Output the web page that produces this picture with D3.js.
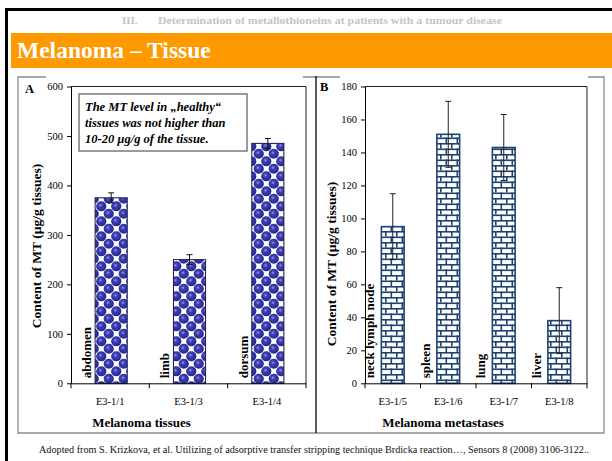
<!DOCTYPE html>
<html><head><meta charset="utf-8">
<script src="https://cdn.jsdelivr.net/npm/d3@7"></script>
<style>
html,body{margin:0;padding:0;background:#fff;}
svg{display:block;}
text{font-family:"Liberation Serif","Times New Roman",serif;}
</style></head>
<body>
<script>
// ---- data ----
const catsA = ["E3-1/1", "E3-1/3", "E3-1/4"];
const valuesA = [375, 250, 485];
const errorsA = [10, 10, 10];
const tissueLabelsA = ["abdomen", "limb", "dorsum"];
const ticksA = [0, 100, 200, 300, 400, 500, 600];

const catsB = ["E3-1/5", "E3-1/6", "E3-1/7", "E3-1/8"];
const valuesB = [95, 151, 143, 38];
const errorsB = [20, 20, 20, 20];
const tissueLabelsB = ["neck lymph node", "spleen", "lung", "liver"];
const ticksB = [0, 20, 40, 60, 80, 100, 120, 140, 160, 180];

const W = 612, H = 461;
const svg = d3.select("body").append("svg").attr("width", W).attr("height", H);
const defs = svg.append("defs");

// sphere pattern
const T = 15, R = 5.1;
const sp = defs.append("pattern").attr("id", "spheres").attr("patternUnits", "userSpaceOnUse")
  .attr("width", T).attr("height", T).attr("x", 0).attr("y", 0);
sp.append("rect").attr("width", T).attr("height", T).attr("fill", "#fff");
const rg = defs.append("radialGradient").attr("id", "sg").attr("cx", "42%").attr("cy", "40%").attr("r", "62%");
rg.append("stop").attr("offset", "0%").attr("stop-color", "#9a9ae6");
rg.append("stop").attr("offset", "30%").attr("stop-color", "#3f3fb4");
rg.append("stop").attr("offset", "100%").attr("stop-color", "#23238a");
[[3.75, 3.75], [11.25, 11.25], [11.25, -3.75], [-3.75, 11.25], [18.75, 3.75], [3.75, 18.75]].forEach(([cx, cy]) => {
  sp.append("circle").attr("cx", cx).attr("cy", cy).attr("r", R).attr("fill", "url(#sg)");
});

// brick pattern
const bp = defs.append("pattern").attr("id", "bricks").attr("patternUnits", "userSpaceOnUse")
  .attr("width", 11).attr("height", 11);
const brick = "#1f4270";
bp.append("rect").attr("width", 11).attr("height", 11).attr("fill", "#fff");
bp.append("rect").attr("x", 0).attr("y", 0).attr("width", 11).attr("height", 1.6).attr("fill", brick);
bp.append("rect").attr("x", 0).attr("y", 5.5).attr("width", 11).attr("height", 1.6).attr("fill", brick);
bp.append("rect").attr("x", 0).attr("y", 0).attr("width", 1.6).attr("height", 5.5).attr("fill", brick);
bp.append("rect").attr("x", 5.5).attr("y", 5.5).attr("width", 1.6).attr("height", 5.5).attr("fill", brick);

// ---- slide frame ----
svg.append("rect").attr("x", 5).attr("y", 8).attr("width", W - 5).attr("height", 3).attr("fill", "#000");
svg.append("rect").attr("x", 5).attr("y", 8).attr("width", 3).attr("height", H - 8).attr("fill", "#000");

svg.append("text").attr("x", 122).attr("y", 24).attr("font-size", 11).attr("font-weight", "bold")
  .attr("fill", "#c4c4c4").text("III.");
svg.append("text").attr("x", 158).attr("y", 24).attr("font-size", 11).attr("font-weight", "bold")
  .attr("fill", "#c4c4c4").attr("textLength", 344).attr("lengthAdjust", "spacingAndGlyphs")
  .text("Determination of metallothioneins at patients with a tumour disease");

svg.append("rect").attr("x", 11).attr("y", 33).attr("width", W - 11).attr("height", 35).attr("fill", "#ff9900");
svg.append("text").attr("x", 17).attr("y", 58).attr("font-size", 23.5).attr("font-weight", "bold")
  .attr("fill", "#fff").text("Melanoma \u2013 Tissue");

// panel boxes
const boxCol = "#8c8c8c";
svg.append("path").attr("fill", "none").attr("stroke", boxCol).attr("stroke-width", 1.3)
  .attr("d", "M46,77 H18 V433 H604 V77 H588 M303,77 H340");
svg.append("line").attr("x1", 316).attr("x2", 316).attr("y1", 76).attr("y2", 433)
  .attr("stroke", "#000").attr("stroke-width", 1.3);

svg.append("text").attr("x", 39).attr("y", 453).attr("font-size", 9.5)
  .attr("textLength", 550).attr("lengthAdjust", "spacingAndGlyphs").attr("fill", "#111")
  .text("Adopted from S. Krizkova, et al. Utilizing of adsorptive transfer stripping technique Brdicka reaction\u2026, Sensors 8 (2008) 3106-3122..");

// ---- generic panel ----
function panel(opt) {
  const g = svg.append("g");
  const x = d3.scaleBand().domain(opt.cats).range([opt.x0, opt.x1]);
  const y = d3.scaleLinear().domain([0, opt.max]).range([opt.y0, opt.y1]);
  const bw = x.bandwidth() * 0.41;

  g.append("path").attr("fill", "none").attr("stroke", "#222").attr("stroke-width", 1)
    .attr("d", `M${opt.x0},${opt.y1} H${opt.x1} V${opt.y0}`);

  g.selectAll("rect.bar").data(opt.values).join("rect")
    .attr("x", (d, i) => x(opt.cats[i]) + x.bandwidth() / 2 - bw / 2 + opt.shift)
    .attr("y", d => y(d))
    .attr("width", bw)
    .attr("height", d => y(0) - y(d))
    .attr("fill", opt.fill).attr("stroke", opt.stroke).attr("stroke-width", opt.sw);

  opt.values.forEach((v, i) => {
    const cx = x(opt.cats[i]) + x.bandwidth() / 2 + opt.shift;
    const e = opt.errors[i];
    const eg = g.append("g").attr("stroke", opt.ecol).attr("stroke-width", 1);
    eg.append("line").attr("x1", cx).attr("x2", cx).attr("y1", y(v + e)).attr("y2", y(v - e));
    eg.append("line").attr("x1", cx - 3).attr("x2", cx + 3).attr("y1", y(v + e)).attr("y2", y(v + e));
    eg.append("line").attr("x1", cx - 3).attr("x2", cx + 3).attr("y1", y(v - e)).attr("y2", y(v - e));
  });

  const ya = g.append("g").attr("transform", `translate(${opt.x0},0)`)
    .call(d3.axisLeft(y).tickValues(opt.ticks).tickSize(4).tickPadding(4).tickSizeOuter(0));
  ya.selectAll("text").attr("font-size", 10.5).attr("fill", "#000")
    .attr("font-family", "Liberation Serif, serif");
  ya.selectAll("line,path").attr("stroke", "#000");

  const xa = g.append("g").attr("transform", `translate(0,${opt.y0})`)
    .call(d3.axisBottom(x).tickSize(0).tickPadding(14));
  xa.select("path").attr("stroke", "#000");
  xa.selectAll("text").attr("font-size", 10.5).attr("fill", "#000")
    .attr("font-family", "Liberation Serif, serif");
  const bounds = opt.cats.map(c => x(c)).concat([opt.x1]);
  g.selectAll("line.xt").data(bounds).join("line")
    .attr("x1", d => d).attr("x2", d => d).attr("y1", opt.y0).attr("y2", opt.y0 + 5)
    .attr("stroke", "#000");

  opt.labels.forEach((t, i) => {
    const lx = x(opt.cats[i]) + x.bandwidth() / 2 - bw / 2 + opt.shift - opt.lgap;
    g.append("text").attr("transform", `translate(${lx},${opt.y0 - 5}) rotate(-90)`)
      .attr("font-size", 13).attr("font-weight", "bold").text(t);
  });

  g.append("text").attr("x", (opt.x0 + opt.x1) / 2 - opt.xtShift).attr("y", 427)
    .attr("text-anchor", "middle").attr("font-size", 13).attr("font-weight", "bold").text(opt.xtitle);
  g.append("text").attr("transform", `translate(${opt.ytx},${opt.yty}) rotate(-90)`)
    .attr("text-anchor", "middle").attr("font-size", 13.5).attr("font-weight", "bold")
    .text("Content of MT (\u00b5g/g tissues)");
  g.append("text").attr("x", opt.lx).attr("y", opt.ly).attr("font-size", 12.5)
    .attr("font-weight", "bold").text(opt.letter);
  return { x, y };
}

panel({
  cats: catsA, values: valuesA, errors: errorsA, labels: tissueLabelsA, ticks: ticksA,
  max: 600, x0: 71, x1: 306, y0: 383.3, y1: 86.5, fill: "url(#spheres)", stroke: "#1a1a50", sw: 1,
  ecol: "#111", shift: 1, lgap: 4, xtitle: "Melanoma tissues", xtShift: 47, ytx: 41, yty: 246,
  letter: "A", lx: 25, ly: 93
});
panel({
  cats: catsB, values: valuesB, errors: errorsB, labels: tissueLabelsB, ticks: ticksB,
  max: 180, x0: 365, x1: 587, y0: 383.3, y1: 86.5, fill: "url(#bricks)", stroke: "#1f4270", sw: 1.6,
  ecol: "#222", shift: 0, lgap: 7, xtitle: "Melanoma metastases", xtShift: 33, ytx: 336, yty: 264,
  letter: "B", lx: 320, ly: 91
});

svg.append("rect").attr("x", 79).attr("y", 94).attr("width", 168).attr("height", 57)
  .attr("fill", "#fff").attr("stroke", "#7a7a7a").attr("stroke-width", 1.5);
const notes = ["The MT level in \u201ehealthy\u201c", "tissues was not higher than", "10-20 \u00b5g/g of the tissue."];
svg.selectAll("text.note").data(notes).join("text")
  .attr("x", 85).attr("y", (d, i) => 110.5 + i * 16)
  .attr("font-size", 12.5).attr("font-weight", "bold").attr("font-style", "italic").text(d => d);
</script>
</body></html>
